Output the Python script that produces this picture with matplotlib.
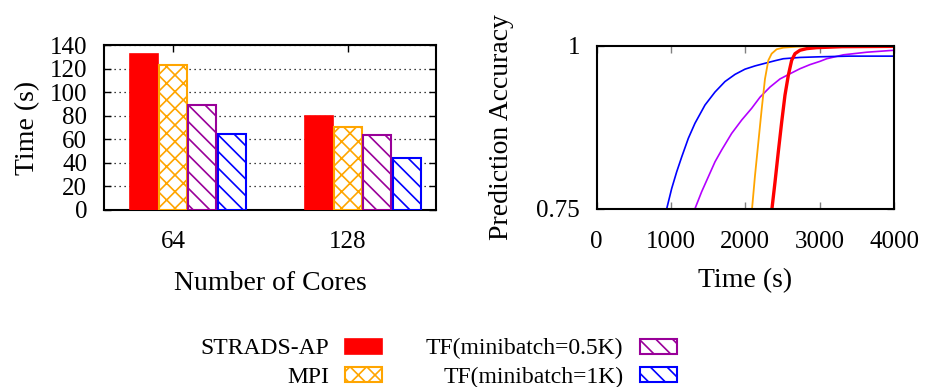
import numpy as np
import matplotlib
matplotlib.use('Agg')
import matplotlib.pyplot as plt

plt.rcParams['font.family'] = ['Liberation Serif', 'DejaVu Serif']
plt.rcParams['hatch.linewidth'] = 1.2

# bar chart data: time (s) per number of cores
cores = ['64', '128']
series = ['STRADS-AP', 'MPI', 'TF(minibatch=0.5K)', 'TF(minibatch=1K)']
times = {
    'STRADS-AP': [132, 79.4],
    'MPI': [122.9, 70.3],
    'TF(minibatch=0.5K)': [89.5, 63.8],
    'TF(minibatch=1K)': [64.7, 44],
}
bar_colors = ['#ff0000', '#ffa500', '#990099', '#0000ff']
bar_hatch = [None, 'xx', '\\\\', '\\\\']

# accuracy vs time curves
t_red = [2358, 2399, 2443, 2489, 2533, 2578, 2623, 2668, 2735, 2825, 2960, 3300, 4000]
acc_red = [0.75, 0.7907, 0.8368, 0.883, 0.924, 0.9545, 0.9775, 0.9878, 0.993,
           0.9955, 0.997, 0.9985, 0.999]
t_orange = [2090, 2130, 2175, 2220, 2264, 2309, 2354, 2421, 2511, 2690, 2914, 3200, 4000]
acc_orange = [0.75, 0.801, 0.852, 0.903, 0.949, 0.9775, 0.9878, 0.9945, 0.997,
              0.9985, 0.9995, 1.0, 1.0]
t_purple = [1322, 1412, 1502, 1592, 1681, 1816, 1951, 2085, 2197, 2332, 2466, 2601,
            2735, 2870, 3004, 3094, 3318, 3632, 4000]
acc_purple = [0.75, 0.776, 0.799, 0.822, 0.840, 0.8655, 0.886, 0.904, 0.921, 0.9366,
              0.949, 0.957, 0.9647, 0.971, 0.976, 0.980, 0.986, 0.990, 0.993]
t_blue = [942, 1009, 1076, 1144, 1233, 1322, 1457, 1592, 1726, 1861, 1995, 2130,
          2264, 2400, 2511, 2735, 3004, 3400, 4000]
acc_blue = [0.75, 0.781, 0.8065, 0.8295, 0.858, 0.881, 0.909, 0.929, 0.945, 0.956,
            0.964, 0.969, 0.973, 0.977, 0.980, 0.982, 0.983, 0.984, 0.984]

fig = plt.figure(figsize=(9.27, 3.87), dpi=100)
ax1 = fig.add_axes([104/927, 1-210/387, 332/927, 165/387])
ax2 = fig.add_axes([596.7/927, 1-208.7/387, 297.3/927, 163/387])

# left: grouped bars
x = np.arange(len(cores))
w = 0.16
step = 0.1675
offs = [-1, 0, 1, 2]
handles = []
for i, s in enumerate(series):
    if bar_hatch[i] is None:
        b = ax1.bar(x + offs[i]*step, times[s], w, color=bar_colors[i],
                    edgecolor=bar_colors[i], linewidth=1.2, label=s, zorder=3)
    else:
        b = ax1.bar(x + offs[i]*step, times[s], w, facecolor='white',
                    edgecolor=bar_colors[i], hatch=bar_hatch[i], linewidth=1.5,
                    label=s, zorder=3)
    handles.append(b)

ax1.set_xlim(-0.394, 1.503)
ax1.set_ylim(0, 140)
ax1.set_xticks(x)
ax1.set_xticklabels(cores)
ax1.set_yticks(np.arange(0, 141, 20))
ax1.yaxis.grid(True, color='black', linestyle=(0, (1, 3)), linewidth=0.9)
ax1.set_axisbelow(True)
ax1.tick_params(axis='both', direction='in', labelsize=18, top=True, right=True,
                length=5, width=1)
ax1.tick_params(axis='x', pad=15)
ax1.tick_params(axis='y', pad=12)
ax1.set_xlabel('Number of Cores', fontsize=20, labelpad=13)
ax1.set_ylabel('Time (s)', fontsize=20, labelpad=7)
for sp in ax1.spines.values():
    sp.set_linewidth(1.5)

# right: accuracy curves
ax2.plot(t_purple, acc_purple, color='#b400ff', lw=1.2)
ax2.plot(t_blue, acc_blue, color='#0000ff', lw=1.2)
ax2.plot(t_orange, acc_orange, color='#ffa500', lw=1.3)
ax2.plot(t_red, acc_red, color='#ff0000', lw=2.4)
ax2.set_xlim(0, 4000)
ax2.set_ylim(0.75, 1.0)
ax2.set_xticks([0, 1000, 2000, 3000, 4000])
ax2.set_yticks([0.75, 1])
ax2.set_yticklabels(['0.75', '1'])
ax2.tick_params(axis='both', direction='in', labelsize=18, top=True, right=True,
                length=5, width=1, color='gray')
ax2.tick_params(axis='x', pad=16)
ax2.tick_params(axis='y', pad=12)
ax2.set_xlabel('Time (s)', fontsize=20, labelpad=11)
ax2.set_ylabel('Prediction Accuracy', fontsize=20, labelpad=16)
for sp in ax2.spines.values():
    sp.set_linewidth(1.5)

fig.legend(handles=handles, labels=series,
           ncol=2, markerfirst=False, frameon=False, fontsize=17,
           handlelength=1.57, handleheight=0.6, handletextpad=0.68,
           columnspacing=1.86, labelspacing=0.3,
           loc='center', bbox_to_anchor=(0.473, 0.062))

fig.savefig('out.png', dpi=100)
